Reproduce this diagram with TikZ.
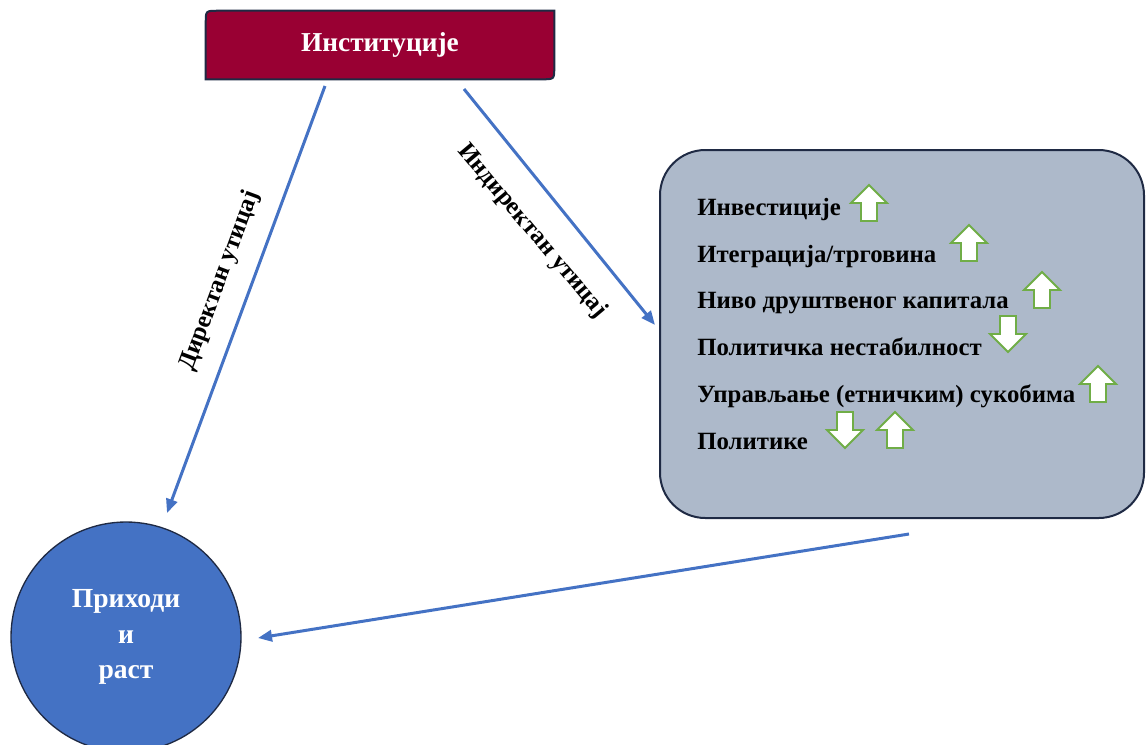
\documentclass[tikz,border=0pt]{standalone}
\usepackage{fontspec}
\setmainfont{Liberation Serif}
\usetikzlibrary{arrows.meta,calc}
\definecolor{crimson}{HTML}{990033}
\definecolor{navyline}{HTML}{1F2A44}
\definecolor{panelgray}{HTML}{ADB9CA}
\definecolor{circblue}{HTML}{4472C4}
\definecolor{linkblue}{HTML}{4472C4}
\definecolor{arrgreen}{HTML}{70AD47}
\pgfdeclarelayer{bg}
\pgfsetlayers{bg,main}
\begin{document}
\begin{tikzpicture}[x=0.75pt,y=-0.75pt,
  txt/.style={font=\bfseries\fontsize{18.6pt}{22pt}\selectfont, inner sep=0pt},
  listline/.style={txt, anchor=base west},
  link/.style={draw=linkblue, line width=2.25pt, -{Triangle[length=10.5pt,width=8.5pt]}},
  updown/.style={draw=arrgreen, fill=white, line width=1.4pt, line join=miter},
  pics/uparrow/.style={code={\path[updown] (0,-18) -- (18,0) -- (8,0) -- (8,18) -- (-8,18) -- (-8,0) -- (-18,0) -- cycle;}},
  pics/downarrow/.style={code={\path[updown] (0,18) -- (18,0) -- (8,0) -- (8,-18) -- (-8,-18) -- (-8,0) -- (-18,0) -- cycle;}}
]
\useasboundingbox (0,0) rectangle (1146,744);

% Institutions box
\node[minimum width=261pt, minimum height=51pt, inner sep=0pt, text=white,
      font=\bfseries\fontsize{20.5pt}{24pt}\selectfont] (inst) at (380,45) {Институције};
\begin{pgfonlayer}{bg}
\path[fill=crimson, draw=navyline, line width=1.5pt]
  (inst.south west) -- ($(inst.north west)+(0,12)$)
  .. controls (inst.north west) .. ($(inst.north west)+(12,0)$)
  -- (inst.north east) -- ($(inst.south east)+(0,-12)$)
  .. controls (inst.south east) .. ($(inst.south east)+(-12,0)$)
  -- cycle;
\end{pgfonlayer}

% Factors panel
\node[draw=navyline, fill=panelgray, line width=1.5pt, rounded corners=34pt,
      minimum width=363pt, minimum height=276pt] (panel) at (902,334) {};

% Income circle
\node[circle, draw=navyline, fill=circblue, line width=1pt, minimum size=172.5pt,
      text=white, align=center, font=\bfseries\fontsize{20.7pt}{26.5pt}\selectfont] (income) at (126,637)
      {Приходи\\и\\раст};

% list lines
\node[listline] (l1) at (697,215) {Инвестиције};
\node[listline] (l2) at (697,262) {Итеграција/трговина};
\node[listline] (l3) at (697,308) {Ниво друштвеног капитала};
\node[listline] (l4) at (697,355) {Политичка нестабилност};
\node[listline] (l5) at (697,402) {Управљање (етничким) сукобима};
\node[listline] (l6) at (697,449) {Политике};

% green arrows
\pic at (869,203) {uparrow};
\pic at (969,243) {uparrow};
\pic at (1042,290) {uparrow};
\pic at (1008,334) {downarrow};
\pic at (1098,384) {uparrow};
\pic at (845,430) {downarrow};
\pic at (895,430) {uparrow};

% connectors
\coordinate (d1) at (325,86);
\coordinate (d2) at (167,513);
\coordinate (i1) at (464,89);
\coordinate (i2) at (655,325);
\coordinate (b1) at (909,534);
\coordinate (b2) at (258,638);
\draw[link] (d1) -- (d2);
\draw[link] (i1) -- (i2);
\draw[link] (b1) -- (b2);

% labels
\node[txt, rotate=69.7] (ldir) at (220,281) {Директан утицај};
\node[txt, rotate=-50] (lind) at (532,231) {Индиректан утицај};
\end{tikzpicture}
\end{document}
